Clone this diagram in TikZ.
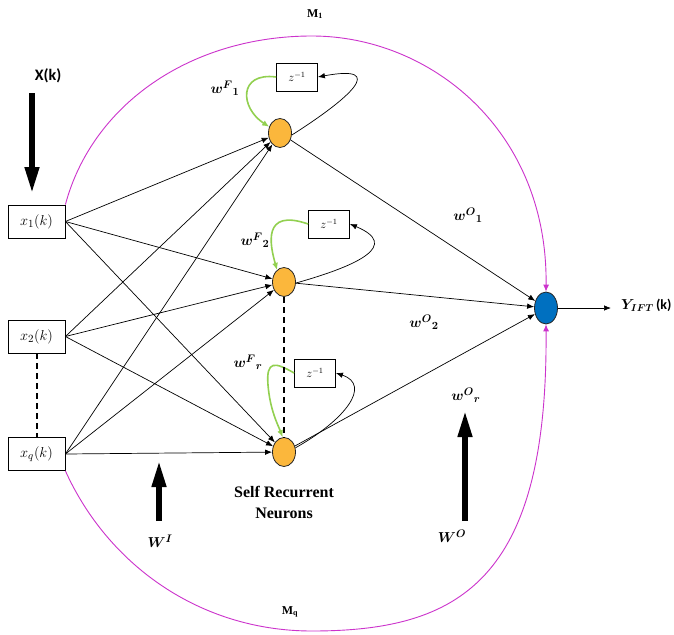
\documentclass[tikz,border=0pt]{standalone}
\usepackage{fontspec}
\usepackage{amsmath}
\usepackage{bm}
\usetikzlibrary{arrows.meta,shapes.geometric}
\newfontfamily\calfont{Carlito}
\newfontfamily\serffont{Liberation Serif}
\definecolor{neuronfill}{HTML}{FBB73C}
\definecolor{outfill}{HTML}{0070C0}
\definecolor{fbgreen}{HTML}{92D050}
\definecolor{arcpink}{HTML}{CC33CC}

\begin{document}
\begin{tikzpicture}[x=1pt,y=-1pt,
  inbox/.style={draw, line width=0.8pt, minimum width=57pt, minimum height=33pt, inner sep=0pt, font=\fontsize{15}{17}\selectfont},
  neuron/.style={ellipse, draw=black!85, line width=0.8pt, fill=neuronfill, minimum width=23pt, minimum height=29pt, inner sep=0pt},
  outneuron/.style={neuron, fill=outfill, minimum height=32pt},
  delaybox/.style={draw, line width=0.8pt, minimum width=41pt, minimum height=28pt, inner sep=0pt, font=\fontsize{12}{14}\selectfont},
  conn/.style={line width=0.7pt, -{Latex[length=7pt,width=5.5pt]}},
  selfw/.style={draw=fbgreen, line width=1.6pt, -{Latex[length=7pt,width=6pt]}},
  magarc/.style={draw=arcpink, line width=0.9pt, -{Latex[length=7pt,width=6pt]}},
  heavy/.style={line width=6.5pt, -{Triangle[length=28pt,width=13pt]}},
  dashline/.style={line width=2pt, dash pattern=on 6pt off 4pt},
  wlabel/.style={font=\fontsize{15}{17}\selectfont, inner sep=0pt},
]
\fill[white] (0,0) rectangle (674,634);
\useasboundingbox (0,0) rectangle (674,634);

% input boxes
\node[inbox] (x1) at (36.5,221.5) {$x_{1}(k)$};
\node[inbox] (x2) at (36.5,336.5) {$x_{2}(k)$};
\node[inbox] (xq) at (36.5,454) {$x_{q}(k)$};

% self recurrent neurons and output neuron
\node[neuron] (n1) at (280,133) {};
\node[neuron] (n2) at (284,282) {};
\node[neuron] (nr) at (284,452) {};
\node[outneuron] (out) at (546,308) {};

% unit delays
\node[delaybox] (z1) at (297,77) {$z^{-1}$};
\node[delaybox] (z2) at (329,224) {$z^{-1}$};
\node[delaybox] (z3) at (315,373) {$z^{-1}$};

% free ends of the arrows
\coordinate (xa) at (32,93);
\coordinate (xb) at (32,195);
\coordinate (wia) at (159,521);
\coordinate (wib) at (159,459);
\coordinate (woa) at (465,521);
\coordinate (wob) at (465,409);
\coordinate (yend) at (611,308);

% memory arcs
\draw[magarc] (x1.north east) .. controls (92,105) and (190,36) .. (312,36)
  .. controls (430,36) and (548,130) .. (out.north);
\draw[magarc] (xq.south east) .. controls (108,565) and (200,631) .. (312,631)
  .. controls (460,631) and (548,580) .. (out.south);

% input to hidden connections
\foreach \s in {x1,x2,xq}{
  \foreach \t in {n1,n2,nr}{
    \draw[conn] (\s.east) -- (\t);
  }
}

% hidden to output connections
\draw[conn] (n1) -- (out);
\draw[conn] (n2) -- (out);
\draw[conn] (nr) -- (out);
\draw[conn] (out) -- (yend);

% feedback through the delays
\draw[conn] (n1.-10) .. controls (350,98) and (388,64) .. (z1.east);
\draw[conn] (n2.-5) .. controls (360,265) and (400,245) .. (z2.east);
\draw[conn] (nr.20) .. controls (345,420) and (372,385) .. (z3.east);

% self weights
\draw[selfw] (z1.west) .. controls (238,72) and (240,108) .. (n1.150);
\draw[selfw] (z2.west) .. controls (262,208) and (270,245) .. (n2.120);
\draw[selfw] (z3.west) .. controls (275,362) and (266,360) .. (268,385)
  .. controls (270,410) and (278,425) .. (nr.95);

% ellipsis lines
\draw[dashline] (x2.south) -- (xq.north);
\draw[dashline] (n2.south) -- (nr.north);

% heavy arrows
\draw[heavy] (xa) -- (xb);
\draw[heavy] (wia) -- (wib);
\draw[heavy] (woa) -- (wob);

% labels
\node[font=\calfont\bfseries\fontsize{16}{18}\selectfont] (xk) at (48,76) {X(k)};
\node[anchor=west, inner sep=0pt, font=\fontsize{14}{16}\selectfont] (yk) at (621,305) {$\bm{Y_{IFT}}$\,{\calfont\bfseries (k)}};
\node[wlabel] (lf1) at (225,88) {$\bm{{w^{F}}_{1}}$};
\node[wlabel] (lf2) at (255,240) {$\bm{{w^{F}}_{2}}$};
\node[wlabel] (lfr) at (248,362) {$\bm{{w^{F}}_{r}}$};
\node[wlabel] (lo1) at (468,215) {$\bm{{w^{O}}_{1}}$};
\node[wlabel] (lo2) at (424,322) {$\bm{{w^{O}}_{2}}$};
\node[wlabel] (lor) at (466,395) {$\bm{{w^{O}}_{r}}$};
\node[wlabel] (lwi) at (160,541) {$\bm{W^{I}}$};
\node[wlabel] (lwo) at (452,536) {$\bm{W^{O}}$};
\node[font=\serffont\bfseries\fontsize{12}{14}\selectfont] (m1) at (315,14) {M\textsubscript{1}};
\node[font=\serffont\bfseries\fontsize{12}{14}\selectfont] (mq) at (290,612) {M\textsubscript{q}};
\node[font=\serffont\bfseries\fontsize{16}{21}\selectfont, align=center] (srn) at (284,502) {Self Recurrent\\Neurons};
\end{tikzpicture}
\end{document}
